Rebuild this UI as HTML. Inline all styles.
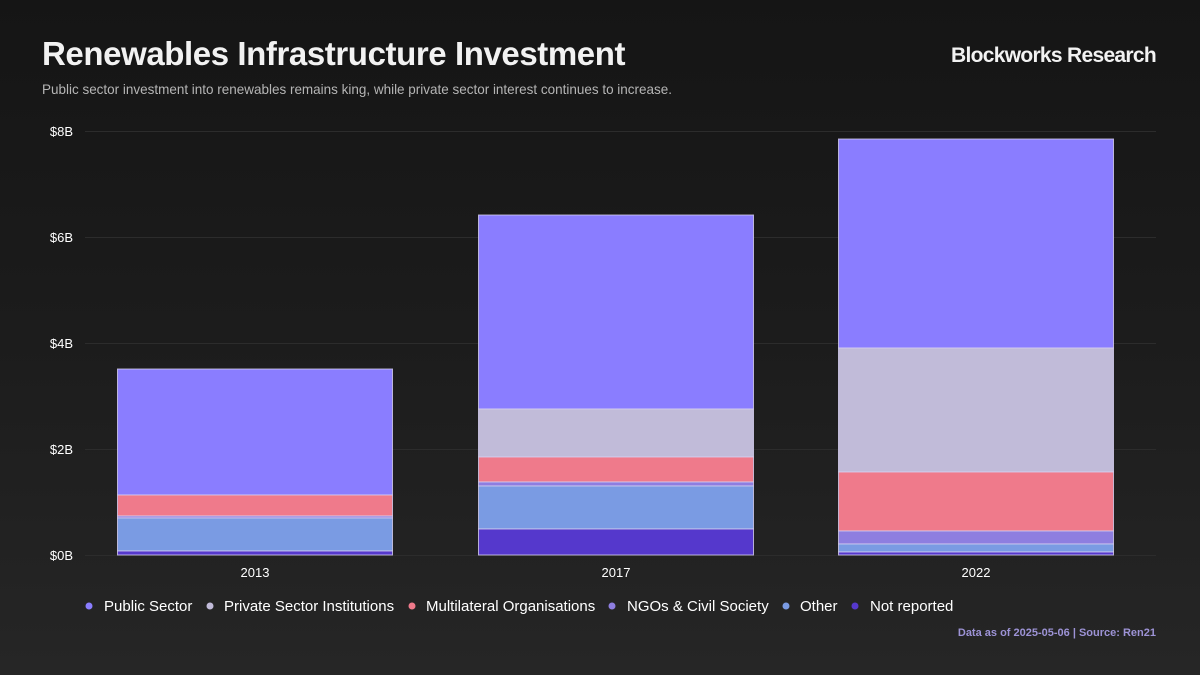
<!DOCTYPE html>
<html><head><meta charset="utf-8"><style>
html,body{margin:0;padding:0;}
body{width:1200px;height:675px;overflow:hidden;background:linear-gradient(180deg,#151515 0%,#1c1c1c 50%,#262626 100%);font-family:"Liberation Sans",sans-serif;}
</style></head><body>
<svg width="1200" height="675" xmlns="http://www.w3.org/2000/svg" style="position:absolute;left:0;top:0;font-family:'Liberation Sans',sans-serif">
<text x="42" y="65" fill="#f2f2f2" font-size="33" font-weight="bold" letter-spacing="-0.5" textLength="583">Renewables Infrastructure Investment</text>
<text x="1156" y="62" fill="#f2f2f2" font-size="21" font-weight="bold" text-anchor="end" letter-spacing="-0.7">Blockworks Research</text>
<text x="42" y="94" fill="#b5b5b5" font-size="14" textLength="630" lengthAdjust="spacingAndGlyphs">Public sector investment into renewables remains king, while private sector interest continues to increase.</text>
<g stroke="#2c2c2c" stroke-width="1">
<line x1="85" x2="1156" y1="131.5" y2="131.5"/>
<line x1="85" x2="1156" y1="237.5" y2="237.5"/>
<line x1="85" x2="1156" y1="343.5" y2="343.5"/>
<line x1="85" x2="1156" y1="449.5" y2="449.5"/>
<line x1="85" x2="1156" y1="555.5" y2="555.5"/>
</g>
<g fill="#ffffff" font-size="13" text-anchor="end">
<text x="73" y="136">$8B</text><text x="73" y="242">$6B</text><text x="73" y="348">$4B</text><text x="73" y="454">$2B</text><text x="73" y="560">$0B</text>
</g>
<g stroke="#d6d0f0" stroke-width="1" stroke-opacity="0.8">
<rect x="117.5" y="369" width="275" height="126" fill="#8a7dff"/>
<rect x="117.5" y="495" width="275" height="21" fill="#ef7a8b"/>
<rect x="117.5" y="516" width="275" height="2" fill="#8e7ee0"/>
<rect x="117.5" y="518" width="275" height="33" fill="#7a9be3"/>
<rect x="117.5" y="551" width="275" height="4" fill="#5538cc"/>
<rect x="478.5" y="215" width="275" height="194" fill="#8a7dff"/>
<rect x="478.5" y="409" width="275" height="48" fill="#c1bbd9"/>
<rect x="478.5" y="457" width="275" height="25" fill="#ef7a8b"/>
<rect x="478.5" y="482" width="275" height="4" fill="#8e7ee0"/>
<rect x="478.5" y="486" width="275" height="43" fill="#7a9be3"/>
<rect x="478.5" y="529" width="275" height="26" fill="#5538cc"/>
<rect x="838.5" y="139" width="275" height="209" fill="#8a7dff"/>
<rect x="838.5" y="348" width="275" height="124" fill="#c1bbd9"/>
<rect x="838.5" y="472" width="275" height="59" fill="#ef7a8b"/>
<rect x="838.5" y="531" width="275" height="13" fill="#8e7ee0"/>
<rect x="838.5" y="544" width="275" height="8" fill="#7a9be3"/>
<rect x="838.5" y="552" width="275" height="3" fill="#5538cc"/>
</g>
<g fill="#ffffff" font-size="13" text-anchor="middle">
<text x="255" y="577">2013</text><text x="616" y="577">2017</text><text x="976" y="577">2022</text>
</g>
<g font-size="15" fill="#ffffff">
<circle cx="89" cy="606" r="3.5" fill="#8a7dff"/><text x="104" y="611">Public Sector</text>
<circle cx="210" cy="606" r="3.5" fill="#c1bbd9"/><text x="224" y="611">Private Sector Institutions</text>
<circle cx="412" cy="606" r="3.5" fill="#ef7a8b"/><text x="426" y="611">Multilateral Organisations</text>
<circle cx="612" cy="606" r="3.5" fill="#8e7ee0"/><text x="627" y="611">NGOs &amp; Civil Society</text>
<circle cx="786" cy="606" r="3.5" fill="#7a9be3"/><text x="800" y="611">Other</text>
<circle cx="855" cy="606" r="3.5" fill="#5538cc"/><text x="870" y="611">Not reported</text>
</g>
<text x="1156" y="636" fill="#9d93d6" font-size="11" font-weight="bold" text-anchor="end">Data as of 2025-05-06 | Source: Ren21</text>
</svg>
</body></html>
